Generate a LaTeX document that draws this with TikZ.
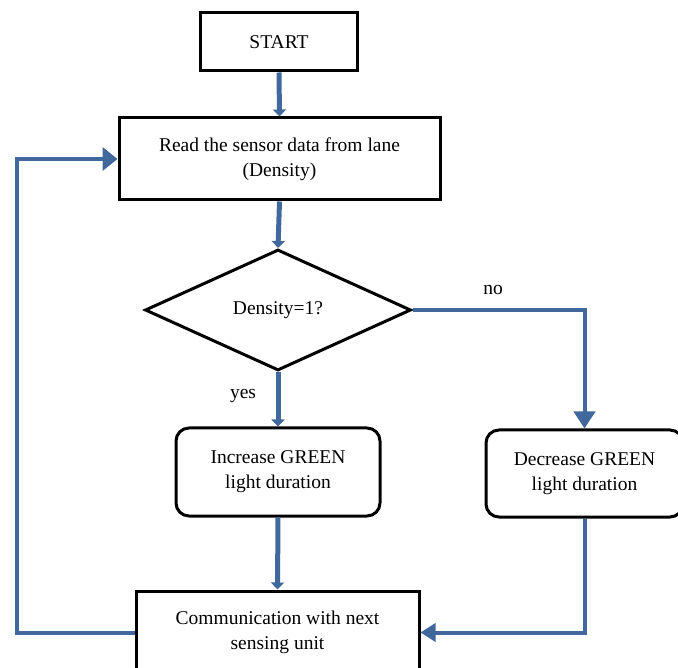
\documentclass[tikz,border=0pt]{standalone}
\usepackage{fontspec}
\setmainfont{Liberation Serif}
\usetikzlibrary{shapes.geometric,arrows.meta}
\definecolor{flowblue}{RGB}{64,104,156}
\tikzset{
  base/.style={draw=black, line width=3pt, fill=white, inner sep=0pt, align=center,
    font=\fontsize{19.5}{25}\selectfont},
  sqbox/.style={base, rectangle},
  rndbox/.style={base, rectangle, rounded corners=13pt},
  decision/.style={base, diamond, aspect=2.2},
  flow/.style={draw=flowblue, line width=5pt, -{Triangle[width=13pt,length=7pt]}},
  flowbig/.style={draw=flowblue, line width=4pt, -{Triangle[width=21pt,length=16pt]}},
  lbl/.style={font=\fontsize{19.5}{25}\selectfont, inner sep=0pt}
}
\begin{document}
\begin{tikzpicture}[x=1pt, y=-1pt]
  \useasboundingbox (0,0) rectangle (678,668);
  \clip (0,0) rectangle (678,668);

  % process steps
  \node[sqbox, minimum width=157pt, minimum height=58pt] (start) at (279,42) {START};
  \node[sqbox, minimum width=321pt, minimum height=82pt] (read) at (279.5,159)
    {Read the sensor data from lane\\(Density)};
  \node[decision, minimum width=266pt, minimum height=121pt] (test) at (278,310) {Density=1?};
  \node[rndbox, minimum width=204pt, minimum height=88pt] (inc) at (278,472)
    {Increase GREEN\\light duration};
  \node[rndbox, minimum width=197pt, minimum height=87pt] (decr) at (584.5,473.5)
    {Decrease GREEN\\light duration};
  \node[sqbox, minimum width=283pt, minimum height=83pt] (comm) at (277.5,632.5)
    {Communication with next\\sensing unit};

  % branch labels
  \node[lbl] (nolbl) at (493,290) {no};
  \node[lbl] (yeslbl) at (243,396) {yes};

  % connectors
  \draw[flow] (start.south) -- (read.north);
  \draw[flow] (read.south) -- (test.north);
  \draw[flow] (test.south) -- (inc.north);
  \draw[flowbig, -{Triangle[width=21pt,length=17pt]}] (test.east) -| (decr.north);
  \draw[flow] (inc.south) -- (comm.north);
  \draw[flowbig, -{Triangle[width=18pt,length=15pt]}] (decr.south) |- (comm.east);
  \coordinate (loopx) at (17,632.5);
  \draw[flowbig, -{Triangle[width=23pt,length=15pt]}] (comm.west) -- (loopx) |- (read.west);
\end{tikzpicture}
\end{document}
